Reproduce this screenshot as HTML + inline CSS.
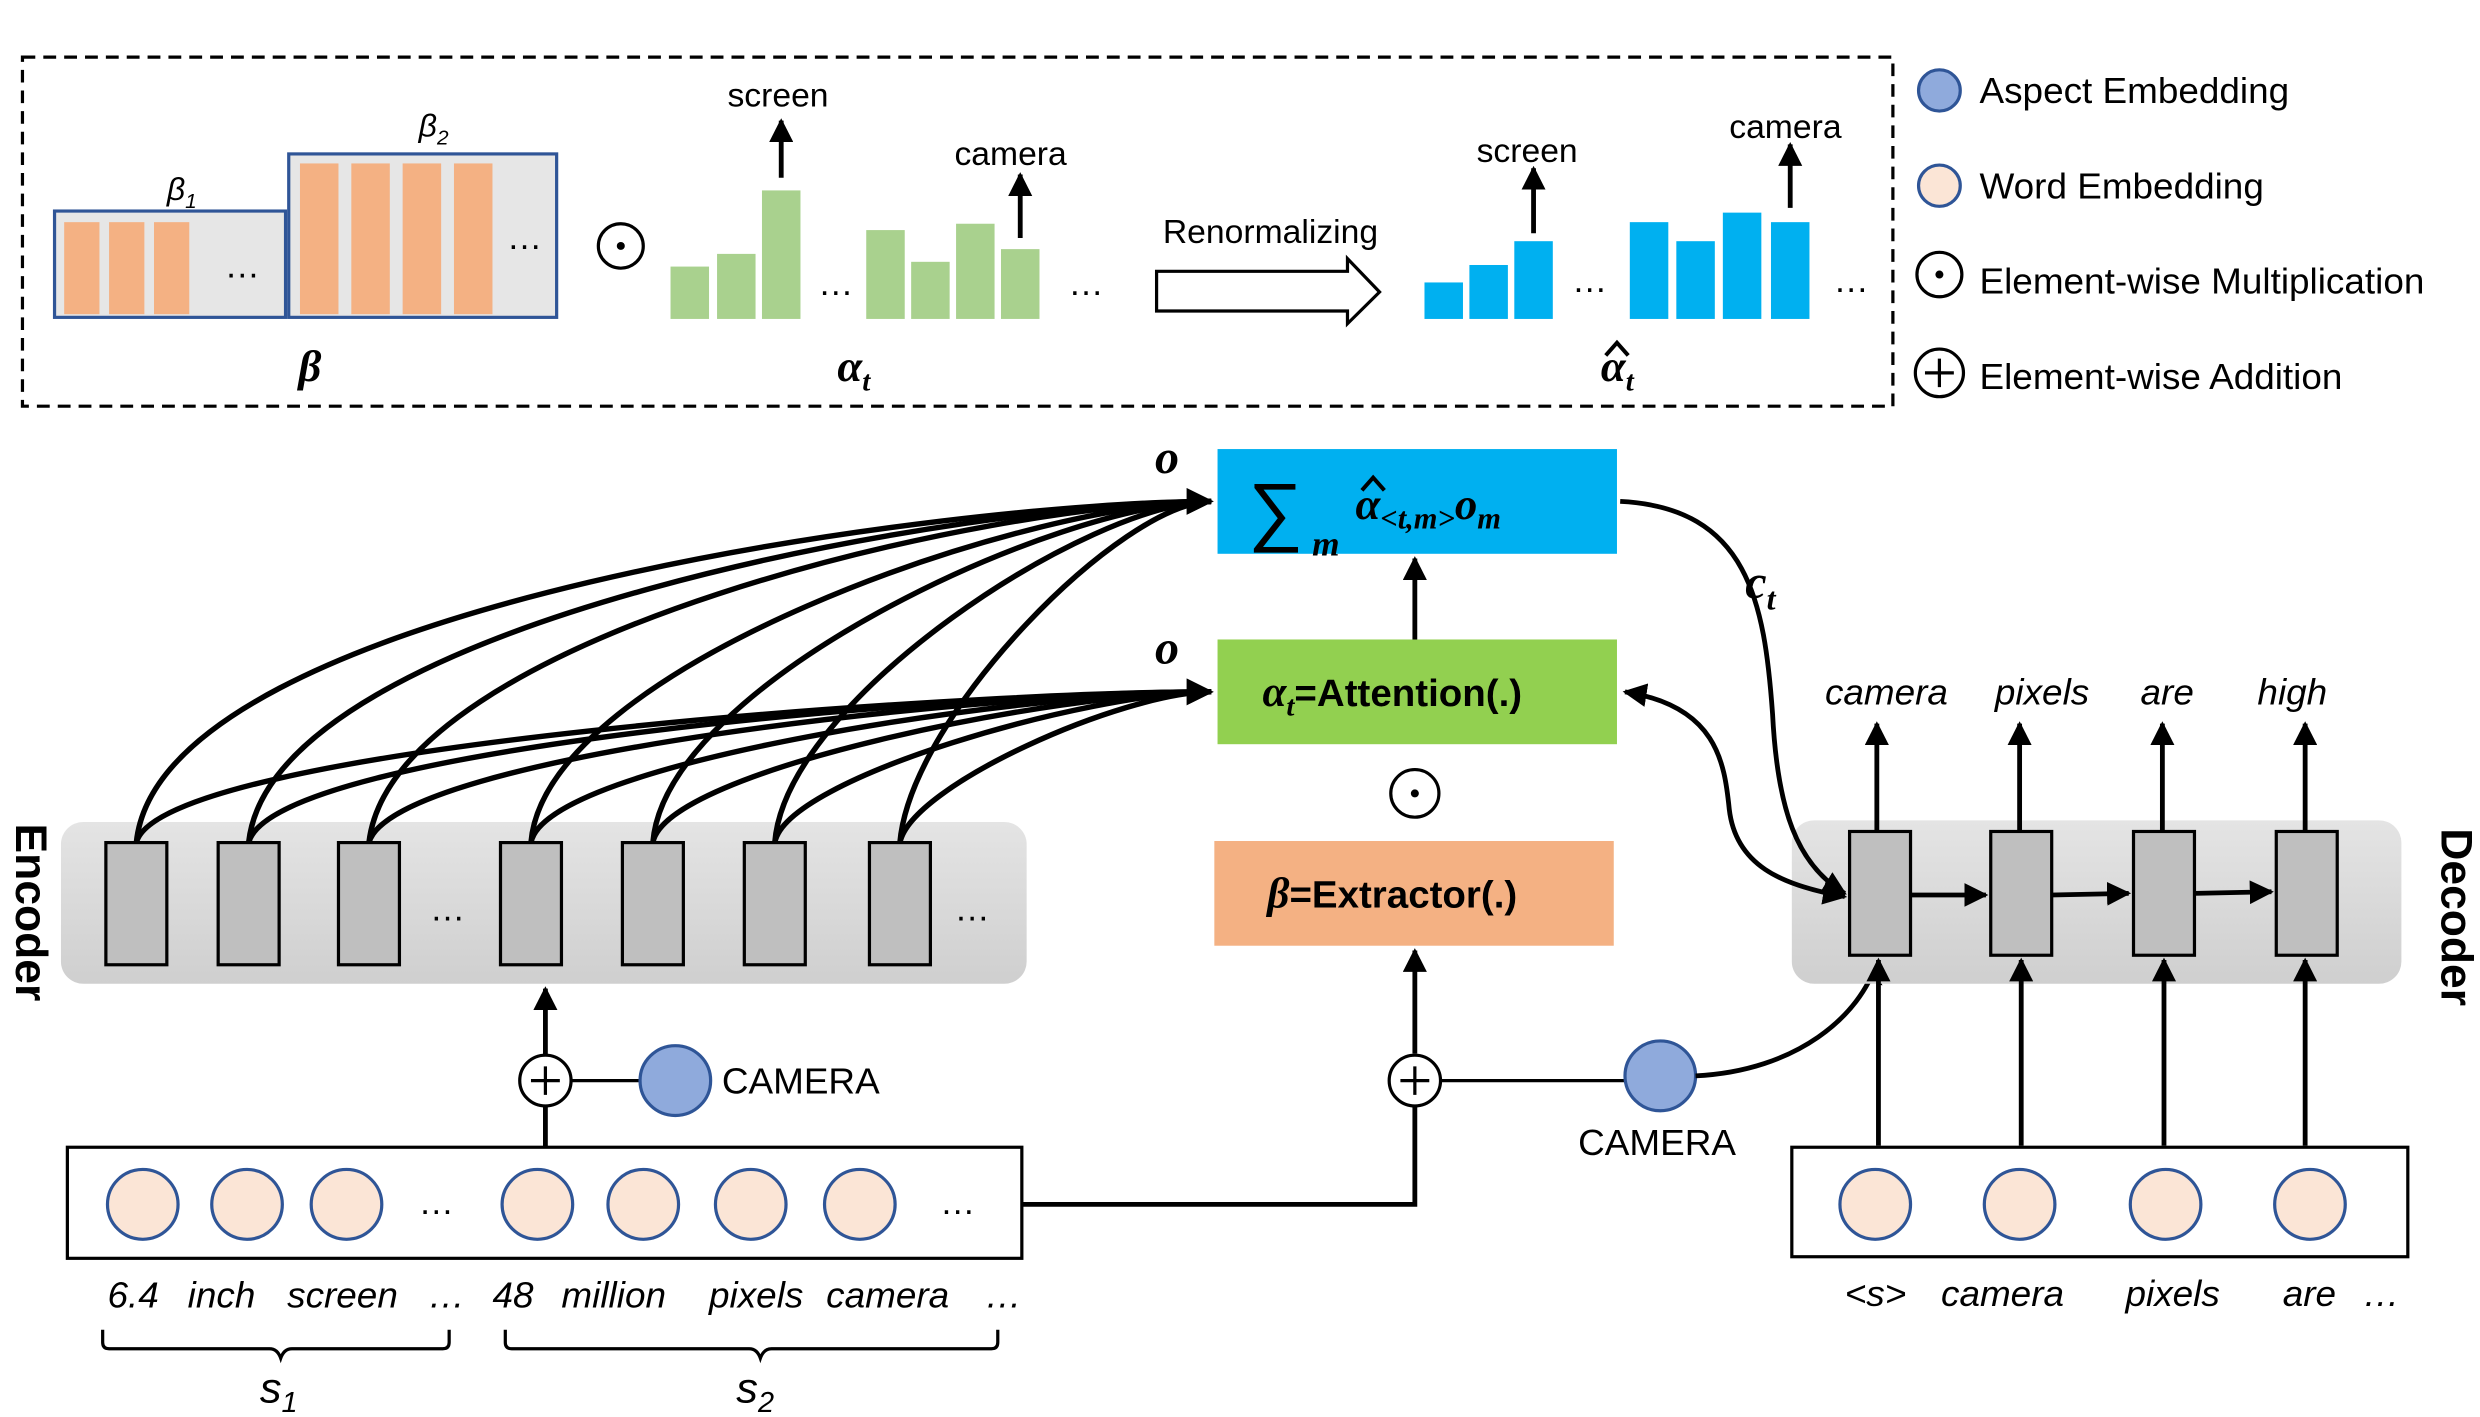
<!DOCTYPE html>
<html><head><meta charset="utf-8"><style>
html,body{margin:0;padding:0;background:#fff;width:2480px;height:1417px;overflow:hidden}
svg{display:block}
text{font-family:"Liberation Sans",sans-serif;fill:#000}
.it{font-style:italic}
.m{font-family:"Liberation Serif",serif;font-style:italic;font-weight:bold}
</style></head><body>
<svg width="2480" height="1417" viewBox="0 0 1546 893" preserveAspectRatio="none" xmlns="http://www.w3.org/2000/svg">
<defs>
<marker id="a" viewBox="0 0 10 10" refX="9" refY="5" markerWidth="5" markerHeight="5" orient="auto-start-reverse"><path d="M0,0L10,5L0,10z" fill="#000"/></marker>
<linearGradient id="g" x1="0" y1="0" x2="0" y2="1"><stop offset="0" stop-color="#e4e4e4"/><stop offset="1" stop-color="#cfcfcf"/></linearGradient>
</defs>
<rect x="14" y="36" width="1166" height="220" fill="none" stroke="#000" stroke-width="2" stroke-dasharray="8,5"/>
<rect x="34" y="133" width="144" height="67" fill="#e6e6e6" stroke="#2f5597" stroke-width="2"/>
<g fill="#f4b183"><rect x="40" y="140" width="22" height="58"/><rect x="68" y="140" width="22" height="58"/><rect x="96" y="140" width="22" height="58"/></g>
<text x="140" y="175" font-size="22">…</text>
<rect x="180" y="97" width="167" height="103" fill="#e6e6e6" stroke="#2f5597" stroke-width="2"/>
<g fill="#f4b183"><rect x="187" y="103" width="24" height="95"/><rect x="219" y="103" width="24" height="95"/><rect x="251" y="103" width="24" height="95"/><rect x="283" y="103" width="24" height="95"/></g>
<text x="316" y="157" font-size="22">…</text>
<text x="104" y="126" class="it" font-family="Liberation Serif" font-size="20">β<tspan font-size="13" dy="5">1</tspan></text>
<text x="261" y="86" class="it" font-family="Liberation Serif" font-size="20">β<tspan font-size="13" dy="5">2</tspan></text>
<text x="186" y="240" class="m" font-size="28">β</text>
<circle cx="387" cy="155" r="14" fill="none" stroke="#000" stroke-width="2"/><circle cx="387" cy="155" r="2.5"/>
<g fill="#a9d18e"><rect x="418" y="168" width="24" height="33"/><rect x="447" y="160" width="24" height="41"/><rect x="475" y="120" width="24" height="81"/>
<rect x="540" y="145" width="24" height="56"/><rect x="568" y="165" width="24" height="36"/><rect x="596" y="141" width="24" height="60"/><rect x="624" y="157" width="24" height="44"/></g>
<text x="510" y="186" font-size="22">…</text><text x="666" y="186" font-size="22">…</text>
<line x1="487" y1="112" x2="487" y2="76" stroke="#000" stroke-width="3" marker-end="url(#a)"/>
<text x="485" y="67" font-size="21" text-anchor="middle">screen</text>
<line x1="636" y1="150" x2="636" y2="110" stroke="#000" stroke-width="3" marker-end="url(#a)"/>
<text x="630" y="104" font-size="21" text-anchor="middle">camera</text>
<text x="522" y="240" class="m" font-size="28">α<tspan font-size="18" dy="6">t</tspan></text>
<text x="792" y="153" font-size="21" text-anchor="middle">Renormalizing</text>
<path d="M721,171 L840,171 L840,163 L860,184 L840,204 L840,196 L721,196 Z" fill="#fff" stroke="#000" stroke-width="2"/>
<g fill="#00b0f0"><rect x="888" y="178" width="24" height="23"/><rect x="916" y="167" width="24" height="34"/><rect x="944" y="152" width="24" height="49"/>
<rect x="1016" y="140" width="24" height="61"/><rect x="1045" y="152" width="24" height="49"/><rect x="1074" y="134" width="24" height="67"/><rect x="1104" y="140" width="24" height="61"/></g>
<text x="980" y="184" font-size="22">…</text><text x="1143" y="184" font-size="22">…</text>
<line x1="956" y1="147" x2="956" y2="106" stroke="#000" stroke-width="3" marker-end="url(#a)"/>
<text x="952" y="102" font-size="21" text-anchor="middle">screen</text>
<line x1="1116" y1="131" x2="1116" y2="91" stroke="#000" stroke-width="3" marker-end="url(#a)"/>
<text x="1113" y="87" font-size="21" text-anchor="middle">camera</text>
<text x="998" y="240" class="m" font-size="28">α<tspan font-size="18" dy="6">t</tspan></text>
<path d="M1001,224 L1008,216 L1015,224" fill="none" stroke="#000" stroke-width="2.5"/>
<circle cx="1209" cy="57" r="13" fill="#8faadc" stroke="#2f5597" stroke-width="2"/><text x="1234" y="65" font-size="23">Aspect Embedding</text>
<circle cx="1209" cy="117" r="13" fill="#fbe5d6" stroke="#2f5597" stroke-width="2"/><text x="1234" y="125" font-size="23">Word Embedding</text>
<circle cx="1209" cy="173" r="14" fill="none" stroke="#000" stroke-width="2"/><circle cx="1209" cy="173" r="2.5"/><text x="1234" y="185" font-size="23">Element-wise Multiplication</text>
<circle cx="1209" cy="235" r="15" fill="none" stroke="#000" stroke-width="2"/><path d="M1200,235h18M1209,226v18" stroke="#000" stroke-width="2"/><text x="1234" y="245" font-size="23">Element-wise Addition</text>
<rect x="759" y="283" width="249" height="66" fill="#00b0f0"/>
<text x="778" y="338" font-family="Liberation Serif" font-size="48">∑</text>
<text x="818" y="350" class="m" font-size="22">m</text>
<text x="845" y="327" class="m" font-size="28">α<tspan font-size="19" dy="6">&lt;t,m&gt;</tspan><tspan dy="-6" font-size="28">o</tspan><tspan font-size="19" dy="6">m</tspan></text>
<path d="M849,309 L856,301 L863,309" fill="none" stroke="#000" stroke-width="2.5"/>
<rect x="759" y="403" width="249" height="66" fill="#92d050"/>
<text x="787" y="445" font-size="24" font-weight="bold"><tspan class="m" font-size="27">α</tspan><tspan class="m" font-size="18" dy="6">t</tspan><tspan dy="-6">=Attention(.)</tspan></text>
<circle cx="882" cy="500" r="15" fill="none" stroke="#000" stroke-width="2"/><circle cx="882" cy="500" r="2.5"/>
<rect x="757" y="530" width="249" height="66" fill="#f4b183"/>
<text x="790" y="572" font-size="24" font-weight="bold"><tspan class="m" font-size="27">β</tspan>=Extractor(.)</text>
<line x1="882" y1="403" x2="882" y2="352" stroke="#000" stroke-width="3" marker-end="url(#a)"/>
<line x1="882" y1="664" x2="882" y2="599" stroke="#000" stroke-width="3" marker-end="url(#a)"/>
<text x="720" y="298" class="m" font-size="30">o</text>
<text x="720" y="418" class="m" font-size="30">o</text>
<rect x="38" y="518" width="602" height="102" rx="14" fill="url(#g)"/>
<g fill="#bfbfbf" stroke="#000" stroke-width="2">
<rect x="66" y="531" width="38" height="77"/><rect x="136" y="531" width="38" height="77"/><rect x="211" y="531" width="38" height="77"/><rect x="312" y="531" width="38" height="77"/><rect x="388" y="531" width="38" height="77"/><rect x="464" y="531" width="38" height="77"/><rect x="542" y="531" width="38" height="77"/></g>
<text x="268" y="580" font-size="22">…</text><text x="595" y="580" font-size="22">…</text>
<text transform="translate(10,575) rotate(90)" font-size="28" font-weight="bold" text-anchor="middle">Encoder</text>
<g fill="none" stroke="#000" stroke-width="3.4">
<path d="M85,531 C100,380 600,316 755,316" marker-end="url(#a)"/>
<path d="M155,531 C170,390 610,316 755,316"/>
<path d="M230,531 C245,400 620,316 755,316"/>
<path d="M331,531 C340,420 640,316 755,316"/>
<path d="M407,531 C415,430 660,316 755,316"/>
<path d="M483,531 C490,440 680,316 755,316"/>
<path d="M561,531 C568,450 700,316 755,316"/>
<path d="M85,531 C100,470 600,436 755,436" marker-end="url(#a)"/>
<path d="M155,531 C170,470 610,436 755,436"/>
<path d="M230,531 C245,475 620,436 755,436"/>
<path d="M331,531 C340,480 640,436 755,436"/>
<path d="M407,531 C415,485 660,436 755,436"/>
<path d="M483,531 C490,490 680,436 755,436"/>
<path d="M561,531 C568,495 700,436 755,436"/>
</g>
<circle cx="340" cy="681" r="16" fill="#fff" stroke="#000" stroke-width="2"/><path d="M331,681h18M340,672v18" stroke="#000" stroke-width="2"/>
<line x1="340" y1="665" x2="340" y2="623" stroke="#000" stroke-width="3" marker-end="url(#a)"/>
<line x1="340" y1="697" x2="340" y2="723" stroke="#000" stroke-width="3"/>
<line x1="356" y1="681" x2="399" y2="681" stroke="#000" stroke-width="2"/>
<circle cx="421" cy="681" r="22" fill="#8faadc" stroke="#2f5597" stroke-width="2"/>
<text x="450" y="689" font-size="23">CAMERA</text>
<rect x="42" y="723" width="595" height="70" fill="#fff" stroke="#000" stroke-width="2"/>
<g fill="#fbe5d6" stroke="#2f5597" stroke-width="2">
<circle cx="89" cy="759" r="22"/><circle cx="154" cy="759" r="22"/><circle cx="216" cy="759" r="22"/><circle cx="335" cy="759" r="22"/><circle cx="401" cy="759" r="22"/><circle cx="468" cy="759" r="22"/><circle cx="536" cy="759" r="22"/></g>
<text x="261" y="765" font-size="22">…</text><text x="586" y="765" font-size="22">…</text>
<g class="it" font-size="23"><text x="67" y="824">6.4</text><text x="117" y="824">inch</text><text x="179" y="824">screen</text><text x="267" y="824">…</text><text x="307" y="824">48</text><text x="350" y="824">million</text><text x="442" y="824">pixels</text><text x="515" y="824">camera</text><text x="614" y="824">…</text></g>
<path d="M64,838 v8 q0,4 4,4 h100 q5,0 7,6 q2,-6 7,-6 h94 q4,0 4,-4 v-8" fill="none" stroke="#000" stroke-width="2"/>
<path d="M315,838 v8 q0,4 4,4 h148 q5,0 7,6 q2,-6 7,-6 h137 q4,0 4,-4 v-8" fill="none" stroke="#000" stroke-width="2"/>
<text x="162" y="884" class="it" font-family="Liberation Serif" font-size="27">s<tspan font-size="18" dy="6">1</tspan></text>
<text x="459" y="884" class="it" font-family="Liberation Serif" font-size="27">s<tspan font-size="18" dy="6">2</tspan></text>
<polyline points="637,759 882,759 882,697" fill="none" stroke="#000" stroke-width="3"/>
<circle cx="882" cy="681" r="16" fill="#fff" stroke="#000" stroke-width="2"/><path d="M873,681h18M882,672v18" stroke="#000" stroke-width="2"/>
<line x1="898" y1="681" x2="1013" y2="681" stroke="#000" stroke-width="2"/>
<circle cx="1035" cy="678" r="22" fill="#8faadc" stroke="#2f5597" stroke-width="2"/>
<text x="1033" y="728" font-size="23" text-anchor="middle">CAMERA</text>
<path d="M1057,678 C1120,675 1160,640 1170,606" fill="none" stroke="#000" stroke-width="3" marker-end="url(#a)"/>
<rect x="1117" y="517" width="380" height="103" rx="14" fill="url(#g)"/>
<g fill="#bfbfbf" stroke="#000" stroke-width="2">
<rect x="1153" y="524" width="38" height="78"/><rect x="1241" y="524" width="38" height="78"/><rect x="1330" y="524" width="38" height="78"/><rect x="1419" y="524" width="38" height="78"/></g>
<g stroke="#000" stroke-width="3" marker-end="url(#a)">
<line x1="1191" y1="564" x2="1238" y2="564"/><line x1="1279" y1="564" x2="1327" y2="563"/><line x1="1368" y1="563" x2="1416" y2="562"/>
<line x1="1170" y1="524" x2="1170" y2="456"/><line x1="1259" y1="524" x2="1259" y2="456"/><line x1="1348" y1="524" x2="1348" y2="456"/><line x1="1437" y1="524" x2="1437" y2="456"/>
<line x1="1171" y1="722" x2="1171" y2="605"/><line x1="1260" y1="722" x2="1260" y2="605"/><line x1="1349" y1="722" x2="1349" y2="605"/><line x1="1437" y1="722" x2="1437" y2="605"/>
</g>
<g class="it" font-size="23" text-anchor="middle"><text x="1176" y="444">camera</text><text x="1273" y="444">pixels</text><text x="1351" y="444">are</text><text x="1429" y="444">high</text></g>
<text transform="translate(1522,578) rotate(90)" font-size="28" font-weight="bold" text-anchor="middle">Decoder</text>
<rect x="1117" y="723" width="384" height="69" fill="#fff" stroke="#000" stroke-width="2"/>
<g fill="#fbe5d6" stroke="#2f5597" stroke-width="2">
<circle cx="1169" cy="759" r="22"/><circle cx="1259" cy="759" r="22"/><circle cx="1350" cy="759" r="22"/><circle cx="1440" cy="759" r="22"/></g>
<g class="it" font-size="23"><text x="1150" y="823">&lt;s&gt;</text><text x="1210" y="823">camera</text><text x="1325" y="823">pixels</text><text x="1423" y="823">are</text><text x="1473" y="823">…</text></g>
<path d="M1010,316 C1090,320 1100,380 1105,450 C1108,510 1120,545 1150,563" fill="none" stroke="#000" stroke-width="3" marker-end="url(#a)"/>
<text x="1088" y="377" class="m" font-size="30">c<tspan font-size="20" dy="7">t</tspan></text>
<path d="M1013,436 C1070,445 1075,480 1078,510 C1082,545 1110,558 1150,565" fill="none" stroke="#000" stroke-width="3" marker-end="url(#a)" marker-start="url(#a)"/>
</svg>
</body></html>
